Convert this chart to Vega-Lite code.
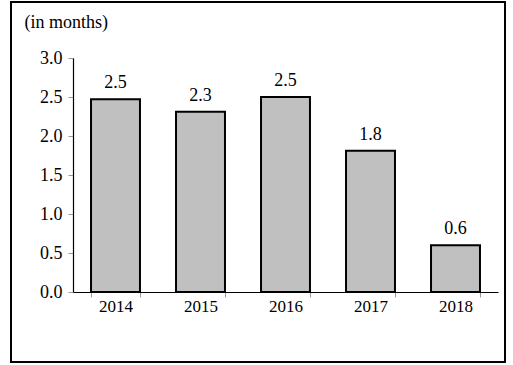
{
  "$schema": "https://vega.github.io/schema/vega-lite/v6.json",
  "autosize": "none",
  "width": 494,
  "height": 360,
  "padding": {"left": 11, "top": 2, "right": 8, "bottom": 3},
  "background": "white",
  "data": {
    "values": [
      {"year": "2014", "months": 2.47},
      {"year": "2015", "months": 2.31},
      {"year": "2016", "months": 2.5},
      {"year": "2017", "months": 1.81},
      {"year": "2018", "months": 0.6}
    ]
  },
  "encoding": {
    "x": {
      "field": "year",
      "type": "nominal",
      "scale": {"range": [62, 487], "paddingInner": 0.424, "paddingOuter": 0.212},
      "axis": {
        "title": null,
        "labelAngle": 0,
        "orient": "bottom",
        "offset": -70,
        "tickBand": "extent",
        "domainColor": "black",
        "domainWidth": 1.2,
        "tickColor": "#999999",
        "tickSize": 5,
        "tickWidth": 1,
        "labelFont": "Liberation Serif",
        "labelFontSize": 17,
        "labelColor": "black",
        "labelPadding": 1
      }
    },
    "y": {
      "field": "months",
      "type": "quantitative",
      "scale": {"domain": [0, 3], "range": [290, 56], "nice": false, "zero": true},
      "axis": {
        "title": "(in months)",
        "titleAngle": 0,
        "titleX": -49,
        "titleY": 25,
        "titleAlign": "left",
        "titleBaseline": "alphabetic",
        "titleFont": "Liberation Serif",
        "titleFontSize": 18,
        "titleFontWeight": "normal",
        "titleColor": "black",
        "orient": "left",
        "offset": -62,
        "values": [0, 0.5, 1, 1.5, 2, 2.5, 3],
        "format": ".1f",
        "grid": false,
        "domainColor": "black",
        "domainWidth": 1.2,
        "tickColor": "#999999",
        "tickSize": 5,
        "tickWidth": 1,
        "labelFont": "Liberation Serif",
        "labelFontSize": 18,
        "labelColor": "black",
        "labelPadding": 6
      }
    }
  },
  "layer": [
    {
      "mark": {"type": "bar", "fill": "#C0C0C0", "stroke": "black", "strokeWidth": 2}
    },
    {
      "mark": {
        "type": "text",
        "baseline": "alphabetic",
        "dy": -11,
        "font": "Liberation Serif",
        "fontSize": 18,
        "color": "black"
      },
      "encoding": {
        "text": {"field": "months", "type": "quantitative", "format": ".1f"}
      }
    }
  ],
  "config": {
    "view": {"stroke": "black", "strokeWidth": 2}
  }
}
